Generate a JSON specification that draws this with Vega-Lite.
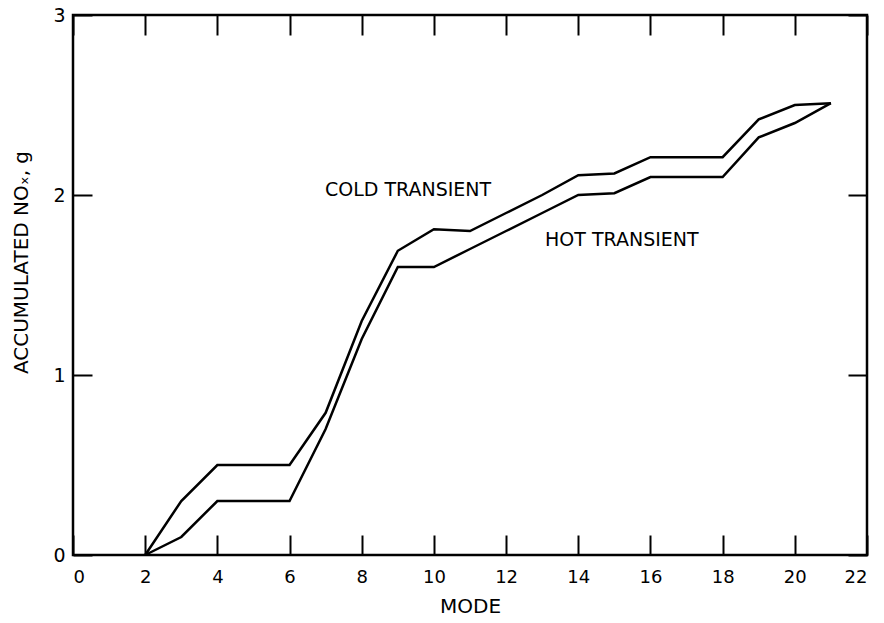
{
  "$schema": "https://vega.github.io/schema/vega-lite/v6.json",
  "width": 794,
  "height": 540,
  "autosize": {"type": "none"},
  "padding": {"left": 73, "top": 15, "right": 17, "bottom": 68},
  "background": "white",
  "config": {
    "view": {"stroke": "black", "strokeWidth": 2.5},
    "font": "DejaVu Sans",
    "axis": {
      "domain": false,
      "grid": false,
      "tickColor": "black",
      "tickWidth": 2,
      "labelColor": "black",
      "titleColor": "black",
      "labelFont": "DejaVu Sans",
      "titleFont": "DejaVu Sans",
      "labelFontSize": 18,
      "titleFontSize": 20,
      "titleFontWeight": "normal"
    }
  },
  "datasets": {
    "curves": [
      {"mode": 2, "nox": 0.0, "series": "COLD TRANSIENT"},
      {"mode": 3, "nox": 0.3, "series": "COLD TRANSIENT"},
      {"mode": 4, "nox": 0.5, "series": "COLD TRANSIENT"},
      {"mode": 6, "nox": 0.5, "series": "COLD TRANSIENT"},
      {"mode": 7, "nox": 0.79, "series": "COLD TRANSIENT"},
      {"mode": 8, "nox": 1.3, "series": "COLD TRANSIENT"},
      {"mode": 9, "nox": 1.69, "series": "COLD TRANSIENT"},
      {"mode": 10, "nox": 1.81, "series": "COLD TRANSIENT"},
      {"mode": 11, "nox": 1.8, "series": "COLD TRANSIENT"},
      {"mode": 12, "nox": 1.9, "series": "COLD TRANSIENT"},
      {"mode": 13, "nox": 2.0, "series": "COLD TRANSIENT"},
      {"mode": 14, "nox": 2.11, "series": "COLD TRANSIENT"},
      {"mode": 15, "nox": 2.12, "series": "COLD TRANSIENT"},
      {"mode": 16, "nox": 2.21, "series": "COLD TRANSIENT"},
      {"mode": 18, "nox": 2.21, "series": "COLD TRANSIENT"},
      {"mode": 19, "nox": 2.42, "series": "COLD TRANSIENT"},
      {"mode": 20, "nox": 2.5, "series": "COLD TRANSIENT"},
      {"mode": 21, "nox": 2.51, "series": "COLD TRANSIENT"},
      {"mode": 2, "nox": 0.0, "series": "HOT TRANSIENT"},
      {"mode": 3, "nox": 0.1, "series": "HOT TRANSIENT"},
      {"mode": 4, "nox": 0.3, "series": "HOT TRANSIENT"},
      {"mode": 6, "nox": 0.3, "series": "HOT TRANSIENT"},
      {"mode": 7, "nox": 0.7, "series": "HOT TRANSIENT"},
      {"mode": 8, "nox": 1.2, "series": "HOT TRANSIENT"},
      {"mode": 9, "nox": 1.6, "series": "HOT TRANSIENT"},
      {"mode": 10, "nox": 1.6, "series": "HOT TRANSIENT"},
      {"mode": 11, "nox": 1.7, "series": "HOT TRANSIENT"},
      {"mode": 12, "nox": 1.8, "series": "HOT TRANSIENT"},
      {"mode": 13, "nox": 1.9, "series": "HOT TRANSIENT"},
      {"mode": 14, "nox": 2.0, "series": "HOT TRANSIENT"},
      {"mode": 15, "nox": 2.01, "series": "HOT TRANSIENT"},
      {"mode": 16, "nox": 2.1, "series": "HOT TRANSIENT"},
      {"mode": 18, "nox": 2.1, "series": "HOT TRANSIENT"},
      {"mode": 19, "nox": 2.32, "series": "HOT TRANSIENT"},
      {"mode": 20, "nox": 2.4, "series": "HOT TRANSIENT"},
      {"mode": 21, "nox": 2.51, "series": "HOT TRANSIENT"}
    ],
    "labels": [
      {"mode": 6.98, "nox": 2.03, "label": "COLD TRANSIENT"},
      {"mode": 13.08, "nox": 1.75, "label": "HOT TRANSIENT"}
    ]
  },
  "layer": [
    {
      "data": {"name": "curves"},
      "mark": {"type": "line", "color": "black", "strokeWidth": 2.5, "strokeJoin": "miter"},
      "encoding": {
        "x": {
          "field": "mode", "type": "quantitative",
          "scale": {"domain": [0, 22], "nice": false, "zero": false},
          "axis": {"orient": "bottom", "values": [0,2,4,6,8,10,12,14,16,18,20,22], "tickSize": -20, "labelPadding": 33, "title": "MODE", "titlePadding": 10}
        },
        "y": {
          "field": "nox", "type": "quantitative",
          "scale": {"domain": [0, 3], "nice": false},
          "axis": {"orient": "left", "values": [0,1,2,3], "tickSize": -19, "labelPadding": 27, "labelFontSize": 19, "title": "ACCUMULATED NOₓ, g", "titleX": -52, "titleY": 247, "titleAngle": -90, "titleAlign": "center", "titleBaseline": "middle"}
        },
        "detail": {"field": "series", "type": "nominal"}
      }
    },
    {
      "data": {"name": "labels"},
      "mark": {"type": "text", "align": "left", "baseline": "middle", "fontSize": 19, "font": "DejaVu Sans", "color": "black"},
      "encoding": {
        "x": {"field": "mode", "type": "quantitative", "axis": {"orient": "top", "values": [0,2,4,6,8,10,12,14,16,18,20,22], "tickSize": -20, "labels": false, "title": null}},
        "y": {"field": "nox", "type": "quantitative", "axis": {"orient": "right", "values": [0,1,2,3], "tickSize": -19, "labels": false, "title": null}},
        "text": {"field": "label", "type": "nominal"}
      }
    }
  ]
}
